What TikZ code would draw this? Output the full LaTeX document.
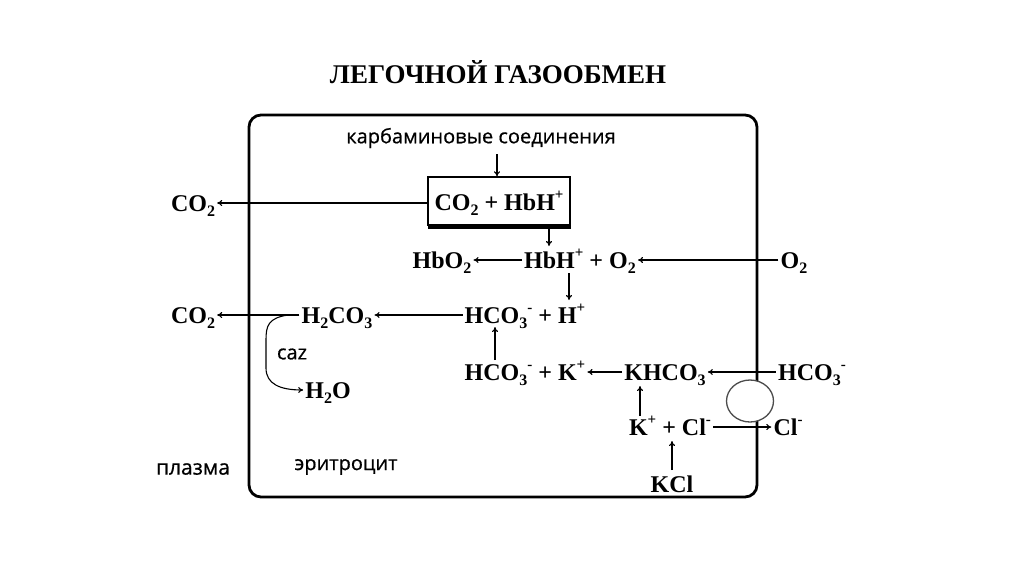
\documentclass[tikz,border=0pt]{standalone}
\usepackage{fontspec}
\setmainfont{Liberation Serif}
\newfontfamily\handfont[FakeBold=0.6]{Open Sans}
\usetikzlibrary{arrows.meta,shapes.geometric}
\newcommand{\sbs}[1]{\raisebox{-0.22em}{\fontsize{16}{16}\selectfont #1}}
\newcommand{\sps}[1]{\raisebox{0.42em}{\fontsize{15}{15}\selectfont #1}}
\tikzset{
  chem/.style={font=\fontsize{24}{26}\selectfont\bfseries, inner sep=2pt, anchor=base},
  hand/.style={font=\fontsize{20}{22}\handfont, inner sep=2pt},
  arr/.style={-{To[length=5pt,width=6pt]}, line width=1.1pt},
}
\begin{document}
\begin{tikzpicture}[x=1pt,y=-1pt]
\useasboundingbox[fill=white] (0,0) rectangle (1024,574);
% row levels
\coordinate (r0) at (0,203);
\coordinate (r1) at (0,260);
\coordinate (r2) at (0,315);
\coordinate (r3) at (0,372);
\coordinate (r4) at (0,427);
% title
\node[font=\fontsize{27}{29}\selectfont\bfseries, anchor=base] (title) at (498,83) {ЛЕГОЧНОЙ ГАЗООБМЕН};
% membrane
\draw[line width=2.8pt, rounded corners=12pt] (249,115) rectangle (757,497);
% channel
\node[ellipse, draw=black!70, fill=white, line width=1.3pt, minimum width=47pt, minimum height=42pt, inner sep=0] (chan) at (750,401) {};
% box
\node[draw, line width=1.4pt, minimum width=142pt, minimum height=48pt, inner sep=0] (box) at (499,201) {};
\node[chem] (boxt) at (499,210) {CO\sbs{2} + HbH\sps{+}};
\draw[line width=3pt] ([xshift=1pt,yshift=-2pt]box.south west) -- ([yshift=-2pt]box.south east);
% texts
\node[hand] (carb) at (481,138) {карбаминовые соединения};
\node[chem] (co2a) at (193,211) {CO\sbs{2}};
\node[chem] (hbo2) at (442,268) {HbO\sbs{2}};
\node[chem] (hbh) at (580,268) {HbH\sps{+} + O\sbs{2}};
\node[chem] (o2r) at (794,268) {O\sbs{2}};
\node[chem] (co2b) at (193,323) {CO\sbs{2}};
\node[chem] (h2co3) at (337,323) {H\sbs{2}CO\sbs{3}};
\node[chem] (hco3h) at (525,323) {HCO\sbs{3}\sps{-} + H\sps{+}};
\node[hand] (caz) at (292,354) {caz};
\node[chem] (h2o) at (328,398) {H\sbs{2}O};
\node[chem] (hco3k) at (525,380) {HCO\sbs{3}\sps{-} + K\sps{+}};
\node[chem] (khco3) at (665,380) {KHCO\sbs{3}};
\node[chem] (hco3r) at (812,380) {HCO\sbs{3}\sps{-}};
\node[chem] (kcl2) at (670,435) {K\sps{+} + Cl\sps{-}};
\node[chem] (clr) at (788,435) {Cl\sps{-}};
\node[chem] (kcl) at (672,492) {KCl};
\node[hand, font=\fontsize{21}{23}\handfont] (plasma) at (193,469) {плазма};
\node[hand] (ery) at (346,467) {эритроцит};
% arrows
\draw[arr] (497,154) coordinate (ca) -- (box.north -| ca);
\draw[arr] (box.west |- r0) -- (co2a.east |- r0);
\draw[arr] (549,229) coordinate (cb) -- (549,246);
\draw[arr] (hbh.west |- r1) -- (hbo2.east |- r1);
\draw[arr] (o2r.west |- r1) -- (hbh.east |- r1);
\draw[arr] (569,273) coordinate (cc) -- (569,300);
\draw[arr] (hco3h.west |- r2) -- (h2co3.east |- r2);
\draw[arr] (h2co3.west |- r2) -- (co2b.east |- r2);
\coordinate (cstart) at (288,315);
\draw[arr] (cstart) .. controls (268,318) and (266,326) .. (266,340) -- (266,368) .. controls (266,384) and (280,390) .. (h2o.west |- 0,390);
\draw[arr] (495,360) coordinate (cd) -- (495,327);
\draw[arr] (khco3.west |- r3) -- (hco3k.east |- r3);
\draw[arr] (hco3r.west |- r3) -- (khco3.east |- r3);
\draw[arr] (640,416) coordinate (ce) -- (640,386);
\draw[arr] (kcl2.east |- r4) -- (clr.west |- r4);
\draw[arr] (672,470) coordinate (cf) -- (672,441);
\end{tikzpicture}
\end{document}
